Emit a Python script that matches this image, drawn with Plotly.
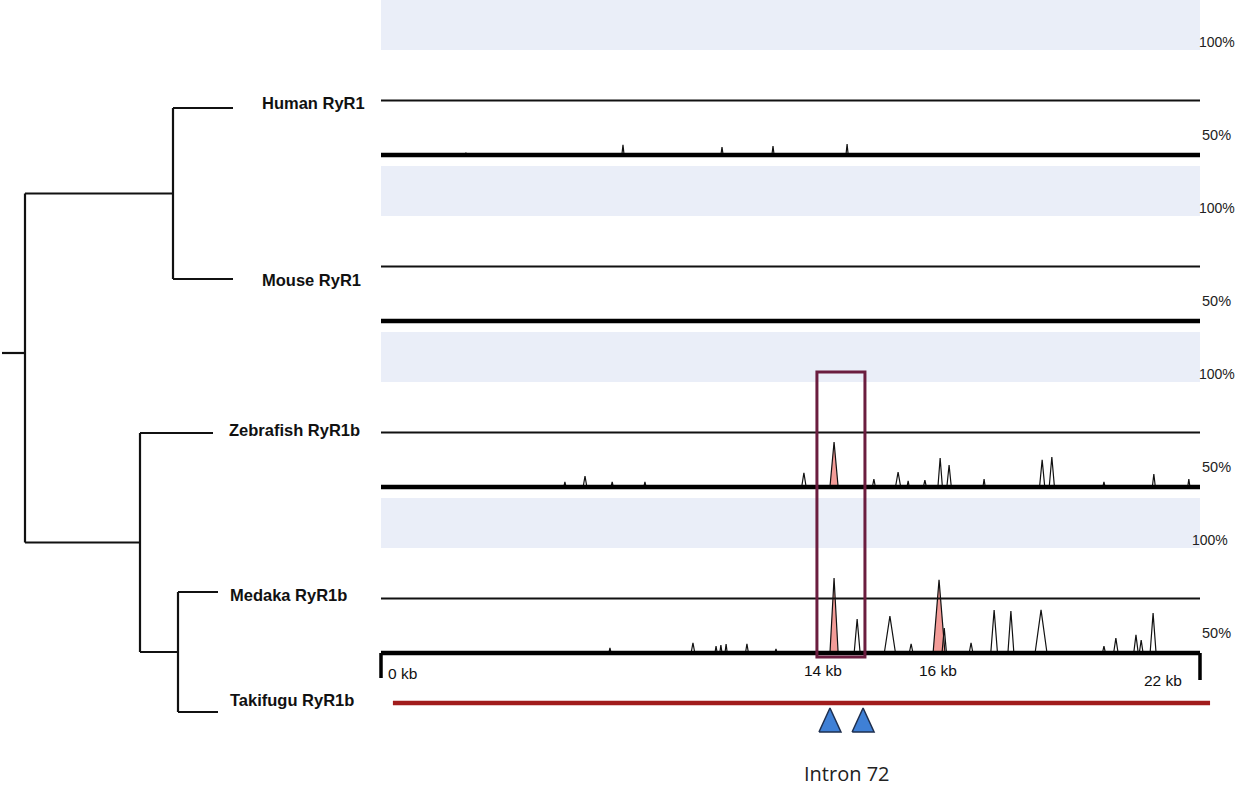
import plotly.graph_objects as go

W, H = 1239, 789

# ---------------- data ----------------
TRACK_NAMES = ["Human RyR1", "Mouse RyR1", "Zebrafish RyR1b", "Medaka RyR1b"]
REF_NAME = "Takifugu RyR1b"
SEQ_LEN_KB = 22
BASE_PCT = 50
MID_PCT = 76
TOP_PCT = 100

# peaks: position (kb), conservation (%), half width (kb), conserved (coloured)
HUMAN_POS = [2.28, 6.50, 9.16, 10.53, 12.52]
HUMAN_PCT = [51.0, 54.8, 53.8, 54.3, 55.2]
HUMAN_HW = [0.03, 0.03, 0.03, 0.03, 0.03]
HUMAN_CNS = [False, False, False, False, False]

MOUSE_POS = []
MOUSE_PCT = []
MOUSE_HW = []
MOUSE_CNS = []

ZEBRA_POS = [4.94, 5.48, 6.21, 7.09, 11.36, 12.17, 13.24, 13.89, 14.16, 14.61,
             15.02, 15.26, 16.20, 17.76, 18.02, 19.42, 20.76, 21.70]
ZEBRA_PCT = [52.4, 55.2, 52.4, 52.4, 56.7, 71.4, 53.8, 57.1, 52.9, 53.3,
             63.8, 60.5, 53.8, 62.9, 64.3, 52.4, 56.2, 53.8]
ZEBRA_HW = [0.03, 0.05, 0.03, 0.03, 0.06, 0.11, 0.04, 0.07, 0.03, 0.04,
            0.06, 0.06, 0.03, 0.07, 0.07, 0.03, 0.04, 0.03]
ZEBRA_CNS = [False, False, False, False, False, True, False, False, False, False,
             False, False, False, False, False, False, False, False]

MEDAKA_POS = [6.15, 8.38, 9.00, 9.13, 9.27, 9.83, 10.61, 12.17, 12.79, 13.67,
              14.24, 14.99, 15.13, 15.85, 16.47, 16.92, 17.73, 19.42, 19.74,
              20.28, 20.42, 20.74]
MEDAKA_PCT = [52.4, 54.8, 53.3, 53.8, 54.3, 54.3, 51.9, 85.7, 66.2, 67.6,
              54.3, 84.8, 61.9, 54.8, 70.5, 70.0, 70.5, 53.3, 57.1,
              58.6, 56.2, 69.0]
MEDAKA_HW = [0.03, 0.05, 0.03, 0.03, 0.03, 0.04, 0.03, 0.11, 0.08, 0.15,
             0.05, 0.16, 0.06, 0.05, 0.09, 0.08, 0.16, 0.04, 0.06,
             0.06, 0.05, 0.08]
MEDAKA_CNS = [False, False, False, False, False, False, False, True, False, False,
              False, True, False, False, False, False, False, False, False,
              False, False, False]

TRACK_PEAKS = [
    (HUMAN_POS, HUMAN_PCT, HUMAN_HW, HUMAN_CNS),
    (MOUSE_POS, MOUSE_PCT, MOUSE_HW, MOUSE_CNS),
    (ZEBRA_POS, ZEBRA_PCT, ZEBRA_HW, ZEBRA_CNS),
    (MEDAKA_POS, MEDAKA_PCT, MEDAKA_HW, MEDAKA_CNS),
]

SCALE_LABELS = ["0 kb", "14 kb", "16 kb", "22 kb"]
SCALE_LABEL_KB = [0.13, 11.87, 14.96, 21.0]

INTRON_LABEL = "Intron 72"
INTRON_KB = [12.06, 12.95]
BOX_KB = [11.71, 13.0]
REF_LINE_KB = [0.32, 22.27]

# tree: leaves are indices into TREE_LEAVES; internal nodes are (depth_px, [children])
TREE_LEAVES = ["Human RyR1", "Mouse RyR1", "Zebrafish RyR1b", "Medaka RyR1b", "Takifugu RyR1b"]
TREE = (25, [(173, [0, 1]), (140, [2, (178, [3, 4])])])

# ---------------- layout constants (pixels) ----------------
BASELINE_PX = [155, 321, 487, 653]
PX_PER_PCT = 2.1
PX_PER_KB = 819 / SEQ_LEN_KB
X0_PX = 381
DOM_TOP = 160
DOM_BOT = 6
BAND_TOP_PCT = BASE_PCT + 155 / PX_PER_PCT

LEAF_Y = [108, 279, 433, 592, 712]
LEAF_TIP = [233, 233, 213, 218, 218]
LABEL_X = [260, 260, 227, 228, 228]
LABEL_Y = [103, 280, 430, 595, 700]
ROOT_STUB = (2, 353)

BAND_COLOR = "#EAEEF8"
BOX_COLOR = "#6B1D3F"
REF_COLOR = "#A11C1C"
CNS_FILL = "#F39C98"
TRI_FILL = "#3F80D6"
TRI_LINE = "#1E2F4F"

fig = go.Figure()
shapes = []
annotations = []

FONT = "Liberation Sans, Arial, sans-serif"

# ---------------- conservation tracks ----------------
for i, (pos, pct, hw, cns) in enumerate(TRACK_PEAKS):
    yname = "y" if i == 0 else f"y{i+1}"
    xs, ys = [], []
    for p, v, w in zip(pos, pct, hw):
        xs += [p - w, p, p + w, None]
        ys += [BASE_PCT, v, BASE_PCT, None]
    for p, v, w, c in zip(pos, pct, hw, cns):
        if c:
            fig.add_trace(go.Scatter(x=[p - w, p, p + w, p - w], y=[BASE_PCT, v, BASE_PCT, BASE_PCT],
                                     mode="lines", fill="toself", fillcolor=CNS_FILL,
                                     line=dict(color="rgba(0,0,0,0)", width=0),
                                     xaxis="x", yaxis=yname, hoverinfo="skip", showlegend=False))
    if xs:
        fig.add_trace(go.Scatter(x=xs, y=ys, mode="lines", line=dict(color="#111111", width=1.2),
                                 xaxis="x", yaxis=yname, hoverinfo="skip", showlegend=False))
    yref = yname
    shapes.append(dict(type="rect", xref="x", yref=yref, x0=0, x1=SEQ_LEN_KB,
                       y0=TOP_PCT, y1=BAND_TOP_PCT, fillcolor=BAND_COLOR, line=dict(width=0),
                       layer="below"))
    shapes.append(dict(type="line", xref="x", yref=yref, x0=0, x1=SEQ_LEN_KB,
                       y0=MID_PCT, y1=MID_PCT, line=dict(color="#111111", width=2)))
    shapes.append(dict(type="line", xref="x", yref=yref, x0=0, x1=SEQ_LEN_KB,
                       y0=BASE_PCT, y1=BASE_PCT, line=dict(color="#000000", width=4.5)))
    annotations.append(dict(text="100%", xref="x", yref=yref, x=SEQ_LEN_KB,
                            y=BASE_PCT + 113 / PX_PER_PCT, xanchor="left", yanchor="middle",
                            xshift=(-10 if i == 3 else -3), showarrow=False,
                            font=dict(family=FONT, size=14, color="#222222")))
    annotations.append(dict(text="50%", xref="x", yref=yref, x=SEQ_LEN_KB,
                            y=BASE_PCT + 20 / PX_PER_PCT, xanchor="left", yanchor="middle",
                            xshift=0, showarrow=False,
                            font=dict(family=FONT, size=14.5, color="#222222")))

layout_axes = {}
layout_axes["xaxis"] = dict(domain=[X0_PX / W, (X0_PX + SEQ_LEN_KB * PX_PER_KB) / W],
                            range=[0, SEQ_LEN_KB], visible=False, anchor="y")
for i, b in enumerate(BASELINE_PX):
    key = "yaxis" if i == 0 else f"yaxis{i+1}"
    top = max(b - DOM_TOP, 0)
    bot = b + DOM_BOT
    layout_axes[key] = dict(domain=[1 - bot / H, 1 - top / H],
                            range=[BASE_PCT - DOM_BOT / PX_PER_PCT, BASE_PCT + (b - top) / PX_PER_PCT],
                            visible=False, anchor="x")

# ---------------- overlay (kb horizontally, pixels vertically) ----------------
kb_lo = -X0_PX / PX_PER_KB
kb_hi = (W - X0_PX) / PX_PER_KB
layout_axes["xaxis5"] = dict(domain=[0, 1], range=[kb_lo, kb_hi], visible=False, anchor="y5")
layout_axes["xaxis6"] = dict(domain=[0, 1], range=[0, W], visible=False, anchor="y5", overlaying="x5")
layout_axes["yaxis5"] = dict(domain=[0, 1], range=[H, 0], visible=False, anchor="x5")

b4 = BASELINE_PX[3]
fig.add_trace(go.Scatter(x=[0, 0, None, SEQ_LEN_KB, SEQ_LEN_KB], y=[b4, b4 + 25, None, b4, b4 + 27],
                         mode="lines", line=dict(color="#000000", width=3.5),
                         xaxis="x5", yaxis="y5", hoverinfo="skip", showlegend=False))
for lab, kb, dy in zip(SCALE_LABELS, SCALE_LABEL_KB, [20, 17, 17, 27]):
    annotations.append(dict(text=lab, xref="x5", yref="y5", x=kb, y=b4 + dy,
                            xanchor=("left" if lab == "0 kb" else "center"), yanchor="middle",
                            showarrow=False, font=dict(family=FONT, size=15.5, color="#111111")))

fig.add_trace(go.Scatter(x=REF_LINE_KB, y=[703, 703], mode="lines",
                         line=dict(color=REF_COLOR, width=4.5),
                         xaxis="x5", yaxis="y5", hoverinfo="skip", showlegend=False))

for kb in INTRON_KB:
    hw = 11 / PX_PER_KB
    fig.add_trace(go.Scatter(x=[kb - hw, kb, kb + hw, kb - hw], y=[732, 708, 732, 732],
                             mode="lines", fill="toself", fillcolor=TRI_FILL,
                             line=dict(color=TRI_LINE, width=1.5),
                             xaxis="x5", yaxis="y5", hoverinfo="skip", showlegend=False))
annotations.append(dict(text=INTRON_LABEL, xref="x5", yref="y5", x=sum(INTRON_KB) / 2, y=773,
                        xanchor="center", yanchor="middle", showarrow=False,
                        font=dict(family="Open Sans, sans-serif", size=20, color="#222222")))

shapes.append(dict(type="rect", xref="x5", yref="y5", x0=BOX_KB[0], x1=BOX_KB[1],
                   y0=372, y1=657, line=dict(color=BOX_COLOR, width=3), fillcolor="rgba(0,0,0,0)"))

# ---------------- tree ----------------
tx, ty = [], []


def draw(node):
    if isinstance(node, int):
        return LEAF_Y[node], LEAF_TIP[node]
    depth, children = node
    info = [draw(c) for c in children]
    cy = [c[0] for c in info]
    tx.extend([depth, depth, None])
    ty.extend([min(cy), max(cy), None])
    for (yc, xc) in info:
        tx.extend([depth, xc, None])
        ty.extend([yc, yc, None])
    return sum(cy) / len(cy), depth


root_y, root_x = draw(TREE)
tx.extend([ROOT_STUB[0], root_x, None])
ty.extend([ROOT_STUB[1], ROOT_STUB[1], None])
fig.add_trace(go.Scatter(x=tx, y=ty, mode="lines", line=dict(color="#111111", width=2.2),
                         xaxis="x6", yaxis="y5", hoverinfo="skip", showlegend=False))

for name, lx, ly in zip(TREE_LEAVES, LABEL_X, LABEL_Y):
    annotations.append(dict(text=f"<b>{name}</b>", xref="x6", yref="y5", x=lx, y=ly,
                            xanchor="left", yanchor="middle", showarrow=False,
                            font=dict(family=FONT, size=16.5, color="#111111")))

fig.update_layout(width=W, height=H, margin=dict(l=0, r=0, t=0, b=0),
                  paper_bgcolor="white", plot_bgcolor="rgba(0,0,0,0)",
                  shapes=shapes, annotations=annotations, showlegend=False, **layout_axes)

fig.write_html("out.html", config={"displayModeBar": False, "staticPlot": True},
               post_script="document.body.style.margin='0';document.body.style.overflow='hidden';")
